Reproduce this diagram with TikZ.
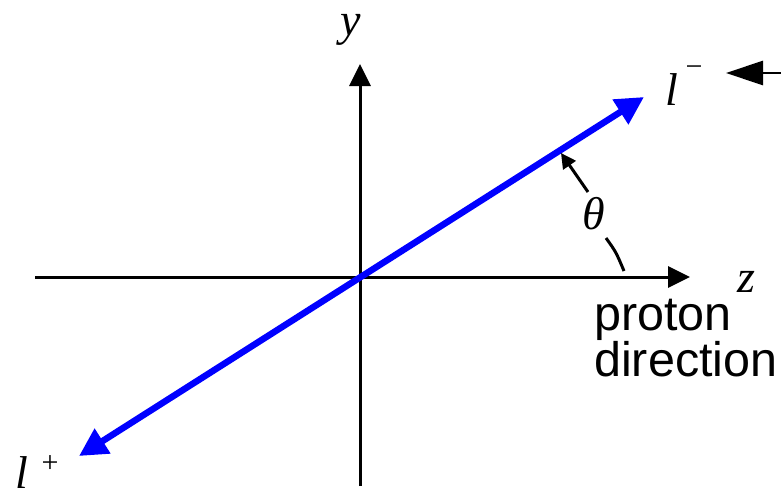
\documentclass[tikz,border=0pt]{standalone}
\usepackage{fontspec}
\setmainfont{Liberation Serif}
\newfontfamily\labsans{Liberation Sans}
\usetikzlibrary{arrows.meta}
\definecolor{lineblue}{RGB}{0,0,255}
\tikzset{
  axis/.style={line width=3pt, -{Triangle[length=22pt,width=21pt]}},
  lepton/.style={line width=6.5pt, color=lineblue, {Triangle[length=28pt,width=28pt]}-{Triangle[length=28pt,width=28pt]}},
  lab/.style={inner sep=0pt, font=\fontsize{46}{50}\selectfont\itshape},
  sup/.style={inner sep=0pt, font=\fontsize{30}{32}\selectfont},
  desc/.style={inner sep=0pt, align=left, font=\fontsize{48.5}{43}\selectfont\labsans},
  thin/.style={line width=3pt}
}
\begin{document}
\begin{tikzpicture}[x=1pt,y=-1pt]
\useasboundingbox (0,0) rectangle (781,499);
\coordinate (O) at (360,277);
\coordinate (zl) at (35,277);
\coordinate (zr) at (690,277);
\coordinate (yb) at (360,486);
\coordinate (yt) at (360,64);
\coordinate (lm) at (644,97);
\coordinate (lp) at (79,456);
\coordinate (edge) at (781,73);
\coordinate (etip) at (726,73);
\coordinate (th1) at (588,192);
\coordinate (th2) at (561,153);
\coordinate (d1) at (606,238);
\coordinate (d2) at (624,271);
\draw[axis] (zl) -- (zr);
\draw[axis] (yb) -- (yt);
\draw[lepton] (lp) -- (lm);
\draw[line width=2.8pt, -{Triangle[length=37pt,width=24pt]}] (edge) -- (etip);
\draw[thin, -{Triangle[length=15pt,width=15pt]}] (th1) -- (th2);
\draw[thin] (d1) .. controls (616,252) .. (d2);
\node[lab] (ylab) at (351,30) {y};
\node[lab] (zlab) at (746,282) {z};
\node[lab] (theta) at (594,214) {θ};
\node[lab, anchor=base] (lminus) at (672,105) {l};
\node[sup] (minus) at (694,71) {−};
\node[lab, anchor=base] (lplus) at (22,488) {l};
\node[sup] (plus) at (50,464) {+};
\node[desc, anchor=north west] (pd) at (594,299) {proton\\direction};
\end{tikzpicture}
\end{document}
